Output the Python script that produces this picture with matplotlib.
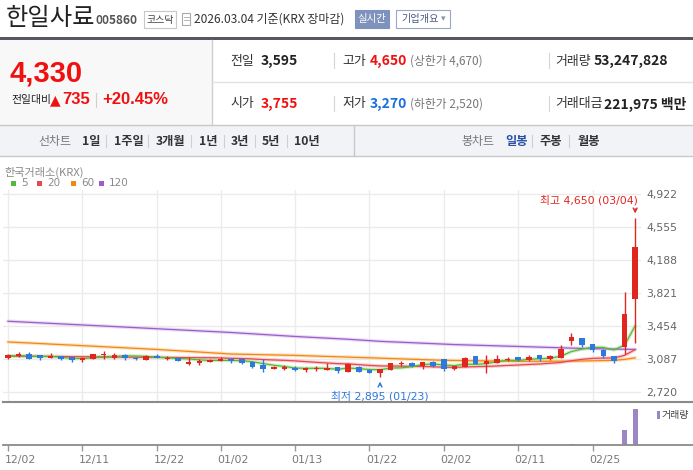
import matplotlib
matplotlib.use("Agg")
import matplotlib.pyplot as plt
import matplotlib.transforms as mtransforms
import numpy as np
import pandas as pd
from matplotlib.patches import Rectangle
from matplotlib.lines import Line2D

plt.rcParams['font.family'] = ['Noto Sans CJK KR', 'DejaVu Sans']

# ---------------- data ----------------
dates = ['12/02','12/03','12/04','12/05','12/08','12/09','12/10','12/11','12/12','12/15',
         '12/16','12/17','12/18','12/19','12/22','12/23','12/24','12/26','12/29','12/30',
         '01/02','01/05','01/06','01/07','01/08','01/09','01/12','01/13','01/14','01/15',
         '01/16','01/19','01/20','01/21','01/22','01/23','01/26','01/27','01/28','01/29',
         '01/30','02/02','02/03','02/04','02/05','02/06','02/09','02/10','02/11','02/12',
         '02/13','02/19','02/20','02/23','02/24','02/25','02/26','02/27','03/03','03/04']
opens  = [3101,3124,3146,3135,3105,3120,3109,3082,3090,3135,3101,3138,3094,3082,3127,3087,3105,3038,3049,3060,
          3068,3094,3087,3057,3023,2979,2983,2994,2972,2976,2972,3001,2949,3001,2972,2938,2968,3035,3046,3012,
          3057,3087,2983,3005,3124,3038,3049,3079,3109,3079,3135,3090,3098,3294,3324,3257,3194,3124,3225,3755]
highs  = [3145,3168,3168,3138,3157,3122,3112,3116,3146,3176,3157,3149,3112,3135,3146,3124,3105,3109,3090,3094,
          3112,3101,3090,3068,3087,3012,3027,3012,2998,3012,3042,3005,3042,3012,2976,2983,3046,3071,3057,3060,
          3064,3094,3016,3112,3124,3138,3135,3116,3112,3135,3138,3138,3246,3380,3327,3261,3198,3127,3830,4650]
lows   = [3095,3113,3087,3082,3103,3082,3060,3060,3090,3094,3090,3079,3075,3075,3101,3075,3068,3027,3020,3057,
          3064,3049,3038,2994,2946,2979,2965,2953,2950,2961,2972,2938,2949,2942,2934,2895,2965,3012,3005,2979,
          3005,2960,2972,3001,3031,2938,3049,3068,3064,3071,3068,3083,3098,3249,3227,3171,3098,3049,3150,3270]
closes = [3138,3149,3094,3101,3116,3090,3079,3090,3146,3146,3131,3105,3087,3124,3105,3094,3071,3060,3068,3079,
          3094,3068,3049,3005,2979,3001,2998,2968,2983,2987,2990,2953,3035,2949,2938,2979,3046,3046,3012,3057,
          3016,2983,3012,3098,3038,3064,3090,3094,3075,3112,3090,3124,3201,3335,3249,3187,3120,3063,3595,4330]
volumes = [210000,260000,240000,180000,190000,170000,200000,160000,280000,300000,
           220000,210000,160000,230000,190000,150000,170000,240000,210000,160000,
           200000,180000,190000,260000,330000,200000,170000,190000,160000,150000,
           220000,230000,310000,210000,200000,260000,330000,240000,210000,250000,
           200000,290000,180000,300000,260000,340000,250000,180000,170000,190000,
           200000,240000,650000,1900000,700000,420000,380000,330000,22900000,53247828]

# moving averages (head part / sparse points)
ma5_head = [3122, 3125, 3122, 3118]
ma20_head_idx = [0, 4, 8, 12, 16, 18]
ma20_head_val = [3122, 3118, 3114, 3110, 3106, 3104]
ma60_idx = [0, 7, 14, 21, 27, 34, 41, 48, 53, 56, 57, 58, 59]
ma60_val = [3279, 3238, 3196, 3145, 3130, 3103, 3075, 3064, 3066, 3072, 3075, 3085, 3103]
ma120_idx = [0, 10, 21, 27, 32, 35, 42, 48, 54, 59]
ma120_val = [3509, 3450, 3384, 3340, 3309, 3286, 3250, 3229, 3207, 3196]

price_ticks = [2720, 3087, 3454, 3821, 4188, 4555, 4922]
date_tick_labels = ['12/02', '12/11', '12/22', '01/02', '01/13', '01/22', '02/02', '02/11', '02/25']

# ---------------- figure ----------------
W, H = 693, 470
fig = plt.figure(figsize=(W/100, H/100), dpi=100)
fig.patch.set_facecolor('white')

def T(x, y, s, size, color='#333333', weight='normal', ha='left', family=None, va='center'):
    kw = {}
    if family:
        kw['family'] = family
    fig.text(x / W, 1 - y / H, s, fontsize=size, color=color, weight=weight, ha=ha, va=va, **kw)

def R(x0, y0, x1, y1, fc='none', ec='none', lw=1.0):
    fig.add_artist(Rectangle((x0 / W, 1 - y1 / H), (x1 - x0) / W, (y1 - y0) / H,
                             transform=fig.transFigure, facecolor=fc, edgecolor=ec, linewidth=lw))

def L(x0, y0, x1, y1, color='#cccccc', lw=1.0):
    fig.add_artist(Line2D([x0 / W, x1 / W], [1 - y0 / H, 1 - y1 / H], transform=fig.transFigure,
                          color=color, linewidth=lw))

# ---- header ----
T(6, 18, '한일사료', 17.5, color='#222222')
T(96, 20, '005860', 8.6, color='#555555', weight='bold')
R(144, 11, 176, 28, fc='white', ec='#c8c8c8', lw=0.8)
T(160, 19.5, '코스닥', 7.2, color='#444444', ha='center')
R(182, 13, 190, 25, fc='white', ec='#aaaaaa', lw=0.8)
L(183.5, 17, 188.5, 17, '#aaaaaa', 0.6)
L(183.5, 20, 188.5, 20, '#aaaaaa', 0.6)
T(194, 19.5, '2026.03.04 기준(KRX 장마감)', 8.6, color='#333333')
R(355, 10, 389, 28, fc='#7f92bd', ec='#7f92bd', lw=0.8)
T(372, 19, '실시간', 7.5, color='white', ha='center')
R(396, 10, 450, 28, fc='white', ec='#9aa6c4', lw=0.8)
T(420, 19, '기업개요', 7.3, color='#4a5a86', ha='center')
T(443, 19, '▾', 6.5, color='#8893b0', ha='center', family=['DejaVu Sans'])

# ---- info panel ----
R(0, 37, 693, 39.5, fc='#55585e', ec='none')
R(0, 39.5, 212, 125, fc='#f8f8f8', ec='none')
L(212, 39.5, 212, 125, '#cfcfcf', 1.0)
L(212, 82, 693, 82, '#e3e3e3', 1.0)
T(10, 73, '4,330', 21, color='#f01010', weight='bold', family=['Liberation Sans', 'DejaVu Sans'])
T(11, 100, '전일대비', 7.8, color='#222222')
T(50, 100, '▲', 10, color='#f01010', family=['DejaVu Sans'])
T(62, 100, '735', 12, color='#f01010', weight='bold', family=['Liberation Sans', 'DejaVu Sans'])
L(96, 93, 96, 107, '#d0d0d0', 0.8)
T(102, 100, '+20.45%', 12, color='#f01010', weight='bold', family=['Liberation Sans', 'DejaVu Sans'])

lab = '#333333'
T(230, 61, '전일', 9.3, color=lab)
T(261, 61, '3,595', 10, color='#222222', weight='bold')
L(334, 53, 334, 68, '#d5d5d5', 0.8)
T(342, 61, '고가', 9.3, color=lab)
T(370, 61, '4,650', 10, color='#f01010', weight='bold')
T(410, 61, '(상한가 4,670)', 8.5, color='#777777')
L(549, 53, 549, 68, '#d5d5d5', 0.8)
T(555, 61, '거래량', 9.3, color=lab)
T(594, 61, '53,247,828', 10, color='#222222', weight='bold')

T(230, 104, '시가', 9.3, color=lab)
T(261, 104, '3,755', 10, color='#f01010', weight='bold')
L(334, 96, 334, 111, '#d5d5d5', 0.8)
T(342, 104, '저가', 9.3, color=lab)
T(370, 104, '3,270', 10, color='#1a6fe0', weight='bold')
T(410, 104, '(하한가 2,520)', 8.5, color='#777777')
L(549, 96, 549, 111, '#d5d5d5', 0.8)
T(555, 104, '거래대금', 9.3, color=lab)
T(604, 104, '221,975 백만', 10, color='#222222', weight='bold')

# ---- tab bar ----
R(0, 125, 693, 156, fc='#f2f3f7', ec='none')
L(0, 125, 693, 125, '#c9c9c9', 1.0)
L(0, 156, 693, 156, '#c9c9c9', 1.0)
L(354, 125, 354, 156, '#c9c9c9', 1.0)
T(38, 141, '선차트', 8.6, color='#777777')
tabs = [(82, '1일'), (114, '1주일'), (156, '3개월'), (199, '1년'), (231, '3년'), (262, '5년'), (294, '10년')]
for x, s in tabs:
    T(x, 141, s, 8.8, color='#333333', weight='bold')
for x in [106, 148, 191, 224, 255, 287]:
    L(x, 135, x, 147, '#cfcfcf', 0.8)
T(461, 141, '봉차트', 8.6, color='#777777')
T(505, 141, '일봉', 8.8, color='#2b4fa8', weight='bold')
T(540, 141, '주봉', 8.8, color='#333333', weight='bold')
T(577, 141, '월봉', 8.8, color='#333333', weight='bold')
for x in [532, 569]:
    L(x, 135, x, 147, '#cfcfcf', 0.8)

# ---- chart legend ----
T(4, 172, '한국거래소(KRX)', 8, color='#8a8a8a')
ma_colors = {'5': '#55b83c', '20': '#e8474c', '60': '#f5870f', '120': '#9c5cc9'}
halo_colors = {'5': '#c3e8b2', '20': '#f8c4c6', '60': '#fcd9b5', '120': '#e3d0f0'}
for (x, key) in [(11, '5'), (37, '20'), (71, '60'), (99, '120')]:
    R(x, 180.5, x + 5, 185.5, fc=ma_colors[key], ec='none')
    T(x + 10, 183.5, key, 7.5, color='#8a8a8a', family=['DejaVu Sans'])

# ---------------- price axes ----------------
px_per_won = 198.3 / 2202.0
def price_at(y):
    return 2720 + (392.3 - y) / px_per_won

x_left, x_right = 3, 641
def idx_at(x):
    return (x - 8) / 10.63

ax = fig.add_axes([x_left / W, 1 - 402.3 / H, (x_right - x_left) / W, (402.3 - 190) / H])
ax.set_xlim(idx_at(x_left), idx_at(x_right))
ax.set_ylim(price_at(402.3), price_at(190))
for s in ax.spines.values():
    s.set_visible(False)
ax.set_facecolor('none')
ax.set_xticks([])
ax.yaxis.tick_right()
ax.set_yticks(price_ticks)
ax.set_yticklabels([f'{v:,}' for v in price_ticks], family=['DejaVu Sans'])
ax.tick_params(axis='y', length=0, pad=4, labelsize=7.8, labelcolor='#666666')

n = len(dates)
xs = np.arange(n)
date_tick_idx = [dates.index(d) for d in date_tick_labels]
for v in price_ticks:
    ax.axhline(v, color='#ebebeb', lw=1.0, zorder=0)
for i in date_tick_idx:
    ax.axvline(i, color='#ececec', lw=1.0, zorder=0)

# moving averages
cs = pd.Series(closes, dtype=float)
ma5 = cs.rolling(5).mean().to_numpy()
ma5[:4] = ma5_head
ma20 = cs.rolling(20).mean().to_numpy()
ma20_x = list(ma20_head_idx) + list(range(19, n))
ma20_y = list(ma20_head_val) + list(ma20[19:])
lines = [('120', ma120_idx, ma120_val), ('60', ma60_idx, ma60_val),
         ('20', ma20_x, ma20_y), ('5', list(xs), list(ma5))]
for key, lx, ly in lines:
    ax.plot(lx, ly, color=halo_colors[key], lw=2.6, alpha=0.75, solid_capstyle='round', zorder=2)
    ax.plot(lx, ly, color=ma_colors[key], lw=0.9, zorder=3)

# candles
up_c, dn_c = '#e1261f', '#2f78dc'
o = np.array(opens); c = np.array(closes); h = np.array(highs); l = np.array(lows)
cols = [up_c if c[i] >= o[i] else dn_c for i in range(n)]
ax.vlines(xs, l, h, colors=cols, lw=1.0, zorder=4)
bottoms = np.minimum(o, c)
heights = np.maximum(np.abs(c - o), 14)
ax.bar(xs, heights, bottom=bottoms, width=0.52, color=cols, linewidth=0, zorder=5)

# high / low annotations
imax = int(np.argmax(h)); imin = int(np.argmin(l))
ax.annotate('', xy=(imax, h[imax] + 25), xytext=(imax, price_at(206)),
            arrowprops=dict(arrowstyle='->', color='#e1261f', lw=1.0, mutation_scale=7), zorder=6)
ax.text(imax + 0.3, price_at(200), f'최고 {h[imax]:,} ({dates[imax]})', color='#e1261f',
        fontsize=7.8, ha='right', va='center', family=['DejaVu Sans', 'Noto Sans CJK KR'])
ax.annotate('', xy=(imin, l[imin] - 25), xytext=(imin, price_at(388)),
            arrowprops=dict(arrowstyle='->', color='#2f78dc', lw=1.0, mutation_scale=7), zorder=6)
ax.text(imin, price_at(396), f'최저 {l[imin]:,} ({dates[imin]})', color='#2f78dc',
        fontsize=7.8, ha='center', va='center', family=['DejaVu Sans', 'Noto Sans CJK KR'])

# ---------------- volume axes ----------------
axv = fig.add_axes([x_left / W, 1 - 445.3 / H, (x_right - x_left) / W, (445.3 - 402.3) / H])
axv.set_xlim(idx_at(x_left), idx_at(x_right))
axv.set_ylim(0, max(volumes) * 43.0 / 36.3)
for s in axv.spines.values():
    s.set_visible(False)
axv.set_facecolor('none')
axv.bar(xs, volumes, width=0.47, color='#9b86c6', linewidth=0)
axv.set_yticks([])
axv.set_xticks(date_tick_idx)
axv.set_xticklabels(date_tick_labels, family=['DejaVu Sans'])
axv.tick_params(axis='x', length=4, width=1, color='#999999', pad=3, labelsize=7.8, labelcolor='#777777')
shift = mtransforms.ScaledTranslation(-3.5 / 100, 0, fig.dpi_scale_trans)
for lbl in axv.get_xticklabels():
    lbl.set_horizontalalignment('left')
    lbl.set_transform(lbl.get_transform() + shift)

# separators and volume legend
L(3, 402.3, 693, 402.3, '#8a8a8a', 1.5)
L(3, 445.3, 693, 445.3, '#8a8a8a', 1.3)
R(657, 411, 660, 419, fc='#9b86c6', ec='none')
T(662, 415, '거래량', 7.2, color='#444444')

fig.savefig('out.png', dpi=100, facecolor='white')
